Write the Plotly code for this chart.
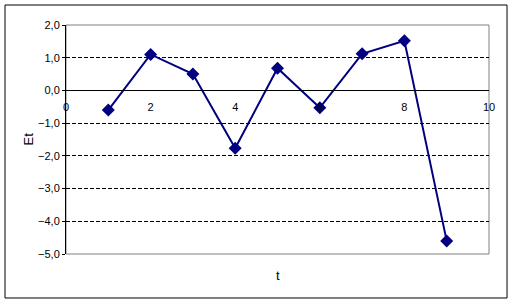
import plotly.graph_objects as go

t_values = [1, 2, 3, 4, 5, 6, 7, 8, 9]
et_values = [-0.6, 1.1, 0.5, -1.77, 0.68, -0.53, 1.12, 1.52, -4.6]
x_ticks = [0, 2, 4, 6, 8, 10]
y_ticks = [-5, -4, -3, -2, -1, 0, 1, 2]

fig = go.Figure()
fig.add_trace(go.Scatter(
    x=t_values, y=et_values, mode="lines+markers",
    line=dict(color="#000080", width=2),
    marker=dict(symbol="diamond", size=10, color="#000080"),
    showlegend=False,
))

font = dict(family="Liberation Sans, Arial, sans-serif", size=11, color="black")
title_font = dict(family="Liberation Sans, Arial, sans-serif", size=13, color="black")

fig.update_layout(
    width=513, height=304,
    margin=dict(l=66, r=24, t=25, b=50),
    paper_bgcolor="white", plot_bgcolor="white",
    separators=", ",
    font=font,
    xaxis=dict(
        range=[0, 10], tickvals=x_ticks, showgrid=False, zeroline=False,
        anchor="free", position=5/7, showline=True, linecolor="black", linewidth=1,
        ticks="outside", ticklen=6, tickcolor="rgba(0,0,0,0)",
        tickfont=font,
    ),
    yaxis=dict(
        range=[-5, 2], tickvals=y_ticks, tickformat=".1f",
        showgrid=True, gridcolor="black", gridwidth=1, griddash="4px,2px",
        zeroline=False, showline=True, linecolor="black", linewidth=1,
        ticks="outside", ticklen=3, tickcolor="black",
        tickfont=font,
    ),
    shapes=[
        dict(type="rect", xref="paper", yref="paper", x0=0, x1=1, y0=0, y1=1,
             line=dict(color="#808080", width=1), layer="below"),
        dict(type="rect", xref="paper", yref="paper", x0=-0.1442, x1=1.0426,
             y0=-0.1921, y1=1.0873, line=dict(color="black", width=1)),
    ],
    annotations=[
        dict(text="t", xref="paper", yref="paper", x=0.5, y=-0.092,
             xanchor="center", yanchor="middle",
             showarrow=False, font=title_font),
        dict(text="Et", xref="paper", yref="paper", x=-0.0898, y=0.5,
             xanchor="center", yanchor="middle", textangle=-90,
             showarrow=False, font=title_font),
    ],
)

fig.write_html("out.html")
